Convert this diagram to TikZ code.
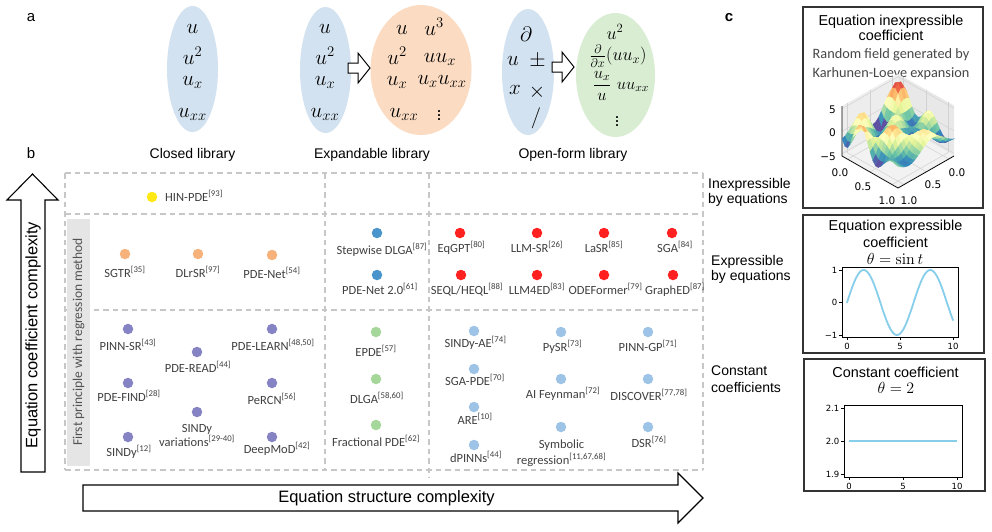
\RequirePackage{fix-cm}
\documentclass[tikz,border=0pt]{standalone}
\usepackage[no-math]{fontspec}
\setmainfont{Liberation Sans}
\newfontfamily\calfont{Carlito}
\newfontfamily\dvfont{DejaVu Sans}
\usetikzlibrary{shapes.geometric}
\definecolor{ellblue}{RGB}{211,226,240}
\definecolor{ellorange}{RGB}{251,220,194}
\definecolor{ellgreen}{RGB}{217,237,211}
\definecolor{cyellow}{RGB}{255,232,20}
\definecolor{corange}{RGB}{246,178,122}
\definecolor{csteel}{RGB}{74,148,204}
\definecolor{cred}{RGB}{255,32,32}
\definecolor{cpurple}{RGB}{134,131,196}
\definecolor{cgreen}{RGB}{165,214,154}
\definecolor{clblue}{RGB}{157,195,230}
\definecolor{methgray}{RGB}{64,64,64}
\definecolor{skyb}{RGB}{135,206,235}
\definecolor{cm0}{HTML}{5E4FA2}
\definecolor{cm1}{HTML}{3288BD}
\definecolor{cm2}{HTML}{66C2A5}
\definecolor{cm3}{HTML}{ABDDA4}
\definecolor{cm4}{HTML}{E6F598}
\definecolor{cm5}{HTML}{FFFFBF}
\definecolor{cm6}{HTML}{FEE08B}
\definecolor{cm7}{HTML}{FDAE61}
\definecolor{cm8}{HTML}{F46D43}
\definecolor{cm9}{HTML}{D53E4F}
\definecolor{cm10}{HTML}{9E0142}
\newcommand\citeR[1]{\textsuperscript{[#1]}}
\tikzset{
  ellnode/.style={ellipse, inner sep=0pt, draw=none},
  mth/.style={inner sep=0pt, font=\fontsize{21}{21}\selectfont},
  mthb/.style={mth, anchor=base},
  mths/.style={inner sep=0pt, font=\fontsize{18}{18}\selectfont},
  lbl/.style={inner sep=0pt, font=\fontsize{14}{16}\selectfont},
  rowlbl/.style={lbl, anchor=base west, yshift=-5pt},
  ttl/.style={inner sep=0pt, anchor=base, yshift=-5.2pt, font=\fontsize{14.4}{16}\selectfont},
  axlbl/.style={inner sep=0pt, font=\fontsize{16.5}{18}\selectfont},
  letter/.style={inner sep=0pt, font=\fontsize{15}{17}\selectfont},
  meth/.style={inner sep=0pt, anchor=base, yshift=-4.5pt, text=methgray, font=\calfont\fontsize{12.5}{14}\selectfont},
  mdot/.style={circle, inner sep=0pt, minimum size=10.5pt, draw=none},
  gridln/.style={draw=black!22, line width=1.1pt, dash pattern=on 5.5pt off 4pt},
  blockarrow/.style={draw=black, fill=white, line width=1.1pt, line join=miter},
  panel/.style={draw=black!80, line width=1.2pt},
  tick/.style={inner sep=0pt, font=\dvfont\fontsize{8.5}{9}\selectfont},
  tick3/.style={inner sep=0pt, font=\dvfont\fontsize{10.5}{11}\selectfont},
}
\begin{document}
\begin{tikzpicture}[x=1pt,y=-1pt,
  declare function={
    srf(\a,\b)=3.9*sin(680*\a+30)*cos(560*\b-40)*(1.2-\a)+1.5*sin(400*\b+300*\a)-0.4;
    px(\a,\b)=898+56*\a-56*\b;
    py(\a,\b,\z)=124+31.5*\a+32*\b-(\z+5.5)*4.5;
  }]
\useasboundingbox (0,0) rectangle (992,531);
\fill[white] (0,0) rectangle (992,531);

% ---------------- panel letters
\node[letter] (la) at (31,18) {a};
\node[letter] (lb) at (31,153) {b};
\node[letter, font=\bfseries\fontsize{15}{17}\selectfont] (lc) at (729,18) {c};

% ---------------- panel a: ellipses
\node[ellnode, fill=ellblue, minimum width=51pt, minimum height=126pt] (e1) at (192.5,69) {};
\node[ellnode, fill=ellblue, minimum width=51pt, minimum height=126pt] (e2) at (325.5,70) {};
\node[ellnode, fill=ellorange, minimum width=101pt, minimum height=130pt] (e3) at (421,70) {};
\node[ellnode, fill=ellblue, minimum width=52pt, minimum height=126pt] (e4) at (528,72) {};
\node[ellnode, fill=ellgreen, minimum width=79pt, minimum height=124pt] (e5) at (615.5,75) {};

% closed library
\node[mthb] (c1) at (192.5,33) {$u$};
\node[mthb] (c2) at (192.5,64) {$u^2$};
\node[mthb] (c3) at (192.5,85) {$u_x$};
\node[mthb] (c4) at (192.5,117) {$u_{xx}$};
% expandable library (base)
\node[mthb] (x1) at (325,33) {$u$};
\node[mthb] (x2) at (325,64) {$u^2$};
\node[mthb] (x3) at (325,85) {$u_x$};
\node[mthb] (x4) at (325,117) {$u_{xx}$};
% expanded
\node[mthb] (o1) at (402,34) {$u$};
\node[mthb] (o2) at (397,64) {$u^2$};
\node[mthb] (o3) at (397,85) {$u_x$};
\node[mthb] (o4) at (404,117) {$u_{xx}$};
\node[mthb] (o5) at (434,35) {$u^3$};
\node[mthb] (o6) at (440,62) {$uu_x$};
\node[mthb] (o7) at (442,84) {$u_xu_{xx}$};
\node[mth, font=\fontsize{18}{18}\selectfont] (o8) at (439,113) {$\vdots$};
% open-form library
\node[mth] (p1) at (526,34) {$\partial$};
\node[mth] (p2) at (513,61) {$u$};
\node[mth] (p3) at (537.5,61) {$\pm$};
\node[mth] (p4) at (515,90) {$x$};
\node[mth] (p5) at (537,92) {$\times$};
\node[mth] (p6) at (536,118) {$/$};
% open-form result
\node[mths] (g1) at (615,32) {$u^2$};
\node[mths] (g2) at (618,56) {$\frac{\partial}{\partial x}(uu_x)$};
\node[mths, font=\fontsize{16.5}{17}\selectfont] (g3) at (602,86) {$\displaystyle\frac{u_x}{u}$};
\node[mths, font=\fontsize{16.5}{17}\selectfont] (g4) at (633,87) {$uu_{xx}$};
\node[mths] (g5) at (617,119) {$\vdots$};

% small block arrows
\draw[blockarrow, line width=1pt] (348,63) -- (358,63) -- (358,53) -- (370,68) -- (358,83) -- (358,73) -- (348,73) -- cycle;
\draw[blockarrow, line width=1pt] (552,62) -- (562,62) -- (562,52) -- (574,67) -- (562,82) -- (562,72) -- (552,72) -- cycle;

\node[lbl] (t1) at (192.5,155) {Closed library};
\node[lbl] (t2) at (372,155) {Expandable library};
\node[lbl] (t3) at (573,155) {Open-form library};

% ---------------- panel b: grid
\draw[gridln] (65,173) -- (703,173);
\draw[gridln] (65,214) -- (703,214);
\draw[gridln] (65,310) -- (703,310);
\draw[gridln] (65,470) -- (703,470);
\draw[gridln] (65,173) -- (65,470);
\draw[gridln] (703,173) -- (703,470);
\draw[gridln] (325,173) -- (325,470);
\draw[gridln] (429,173) -- (429,478);

\fill[black!10] (67,219) rectangle (90,466);
\node[inner sep=0pt, rotate=90, text=black!68, font=\calfont\fontsize{13.5}{15}\selectfont] (fp) at (78.5,342) {First principle with regression method};

% axes arrows
\draw[blockarrow] (21,472) -- (21,200) -- (7,200) -- (32.5,174) -- (58,200) -- (45,200) -- (45,472) -- cycle;
\node[axlbl, rotate=90] (ay) at (33,335) {Equation coefficient complexity};
\draw[blockarrow] (83,485) -- (678,485) -- (678,473) -- (703,498) -- (678,523) -- (678,511) -- (83,511) -- cycle;
\node[axlbl] (ax) at (386.5,498) {Equation structure complexity};

% row labels
\node[rowlbl] (r1a) at (708,183) {Inexpressible};
\node[rowlbl] (r1b) at (708,198) {by equations};
\node[rowlbl] (r2a) at (711,260) {Expressible};
\node[rowlbl] (r2b) at (711,275) {by equations};
\node[rowlbl] (r3a) at (711,370) {Constant};
\node[rowlbl] (r3b) at (711,387) {coefficients};

% row 1
\node[mdot, fill=cyellow] (hin) at (152,197) {};
\node[meth, anchor=base west] (hinL) at (165,197) {HIN-PDE\citeR{93}};

% row 2, col 1
\node[mdot, fill=corange] (sgtr) at (125,254) {};
\node[meth] (sgtrL) at (125,273) {SGTR\citeR{35}};
\node[mdot, fill=corange] (dlrsr) at (198,254) {};
\node[meth] (dlrsrL) at (198,273) {DLrSR\citeR{97}};
\node[mdot, fill=corange] (pdenet) at (272,255) {};
\node[meth] (pdenetL) at (272,274) {PDE-Net\citeR{54}};

% row 2, col 2
\node[mdot, fill=csteel] (sdlga) at (377,233) {};
\node[meth] (sdlgaL) at (382,250) {Stepwise DLGA\citeR{87}};
\node[mdot, fill=csteel] (pdenet2) at (377,275) {};
\node[meth] (pdenet2L) at (380,290) {PDE-Net 2.0\citeR{61}};

% row 2, col 3
\node[mdot, fill=cred] (eqgpt) at (460,233) {};
\node[meth] (eqgptL) at (461.5,248) {EqGPT\citeR{80}};
\node[mdot, fill=cred] (llmsr) at (537,233) {};
\node[meth] (llmsrL) at (537,248) {LLM-SR\citeR{26}};
\node[mdot, fill=cred] (lasr) at (604,233) {};
\node[meth] (lasrL) at (604,248) {LaSR\citeR{85}};
\node[mdot, fill=cred] (sga) at (672,233) {};
\node[meth] (sgaL) at (675,248) {SGA\citeR{84}};
\node[mdot, fill=cred] (seql) at (461,275) {};
\node[meth] (seqlL) at (467,290) {SEQL/HEQL\citeR{88}};
\node[mdot, fill=cred] (llm4ed) at (537,275) {};
\node[meth] (llm4edL) at (537,290) {LLM4ED\citeR{83}};
\node[mdot, fill=cred] (odef) at (604,275) {};
\node[meth] (odefL) at (605.5,290) {ODEFormer\citeR{79}};
\node[mdot, fill=cred] (graphed) at (673,275) {};
\node[meth] (graphedL) at (675,290) {GraphED\citeR{87}};

% row 3, col 1
\node[mdot, fill=cpurple] (pinnsr) at (128,329) {};
\node[meth] (pinnsrL) at (128,346) {PINN-SR\citeR{43}};
\node[mdot, fill=cpurple] (pderead) at (197,352) {};
\node[meth] (pdereadL) at (198,368) {PDE-READ\citeR{44}};
\node[mdot, fill=cpurple] (pdelearn) at (272,329) {};
\node[meth] (pdelearnL) at (273,346) {PDE-LEARN\citeR{48,50}};
\node[mdot, fill=cpurple] (pdefind) at (128,383) {};
\node[meth] (pdefindL) at (129,397) {PDE-FIND\citeR{28}};
\node[mdot, fill=cpurple] (percn) at (272,383) {};
\node[meth] (percnL) at (272,400) {PeRCN\citeR{56}};
\node[mdot, fill=cpurple] (sindyv) at (197,412) {};
\node[meth] (sindyvL1) at (197,428) {SINDy};
\node[meth] (sindyvL2) at (197,442) {variations\citeR{29-40}};
\node[mdot, fill=cpurple] (sindy) at (128,437) {};
\node[meth] (sindyL) at (129,452) {SINDy\citeR{12}};
\node[mdot, fill=cpurple] (deepmod) at (272,437) {};
\node[meth] (deepmodL) at (277,449) {DeepMoD\citeR{42}};

% row 3, col 2
\node[mdot, fill=cgreen] (epde) at (376,332) {};
\node[meth] (epdeL) at (376,352) {EPDE\citeR{57}};
\node[mdot, fill=cgreen] (dlga) at (376,379) {};
\node[meth] (dlgaL) at (377,399) {DLGA\citeR{58,60}};
\node[mdot, fill=cgreen] (fpde) at (376,425) {};
\node[meth] (fpdeL) at (376,442) {Fractional PDE\citeR{62}};

% row 3, col 3
\node[mdot, fill=clblue] (sindyae) at (474,331) {};
\node[meth] (sindyaeL) at (475.5,343) {SINDy-AE\citeR{74}};
\node[mdot, fill=clblue] (sgapde) at (474,369) {};
\node[meth] (sgapdeL) at (475,381) {SGA-PDE\citeR{70}};
\node[mdot, fill=clblue] (are) at (474,407) {};
\node[meth] (areL) at (475,420) {ARE\citeR{10}};
\node[mdot, fill=clblue] (dpinn) at (474,445) {};
\node[meth] (dpinnL) at (476,458) {dPINNs\citeR{44}};
\node[mdot, fill=clblue] (pysr) at (561,332) {};
\node[meth] (pysrL) at (562.5,347) {PySR\citeR{73}};
\node[mdot, fill=clblue] (aif) at (561,379) {};
\node[meth] (aifL) at (563,394) {AI Feynman\citeR{72}};
\node[mdot, fill=clblue] (symreg) at (561,427) {};
\node[meth] (symregL1) at (561.5,444) {Symbolic};
\node[meth] (symregL2) at (561.5,460) {regression\citeR{11,67,68}};
\node[mdot, fill=clblue] (pinngp) at (648,332) {};
\node[meth] (pinngpL) at (648,347) {PINN-GP\citeR{71}};
\node[mdot, fill=clblue] (discover) at (648,379) {};
\node[meth] (discoverL) at (649,396) {DISCOVER\citeR{77,78}};
\node[mdot, fill=clblue] (dsr) at (648,427) {};
\node[meth] (dsrL) at (649,443) {DSR\citeR{76}};

% ---------------- panel c
\draw[panel] (803,7) rectangle (983,208);
\node[ttl] (c1t1) at (891,20) {Equation inexpressible};
\node[ttl] (c1t2) at (891,35) {coefficient};
\node[meth, text=black!72, yshift=-0.5pt, font=\calfont\fontsize{14.3}{15}\selectfont] (c1t3) at (891,53) {Random field generated by};
\node[meth, text=black!72, yshift=-0.5pt, font=\calfont\fontsize{14.3}{15}\selectfont] (c1t4) at (891,72) {Karhunen-Loeve expansion};

% 3D panes
\fill[black!7] (898,124) -- (842,156) -- (842,106) -- (898,74) -- cycle;
\fill[black!9] (898,124) -- (954,155.5) -- (954,105.5) -- (898,74) -- cycle;
\fill[black!5] (898,124) -- (954,155.5) -- (898,187.5) -- (842,156) -- cycle;
\begin{scope}[draw=black!18, line width=0.5pt]
  \foreach \zz in {-5,0,5}{
    \draw ({px(0,1)},{py(0,1,\zz)}) -- ({px(0,0)},{py(0,0,\zz)}) -- ({px(1,0)},{py(1,0,\zz)});
  }
  \foreach \ss in {0.1,0.5,0.9}{
    \draw ({px(0,\ss)},{py(0,\ss,-5.5)}) -- ({px(0,\ss)},{py(0,\ss,5.6)});
    \draw ({px(\ss,0)},{py(\ss,0,-5.5)}) -- ({px(\ss,0)},{py(\ss,0,5.6)});
    \draw ({px(\ss,0)},{py(\ss,0,-5.5)}) -- ({px(\ss,1)},{py(\ss,1,-5.5)});
    \draw ({px(0,\ss)},{py(0,\ss,-5.5)}) -- ({px(1,\ss)},{py(1,\ss,-5.5)});
  }
\end{scope}
\draw[black, line width=0.8pt] (842,106) -- (842,156) -- (898,188) -- (954,156);

% surface
\foreach \i in {0,...,19}{
  \foreach \j in {0,...,19}{
    \pgfmathsetmacro\aA{\i/20}
    \pgfmathsetmacro\aB{(\i+1)/20}
    \pgfmathsetmacro\bA{\j/20}
    \pgfmathsetmacro\bB{(\j+1)/20}
    \pgfmathsetmacro\zAA{srf(\aA,\bA)}
    \pgfmathsetmacro\zAB{srf(\aA,\bB)}
    \pgfmathsetmacro\zBA{srf(\aB,\bA)}
    \pgfmathsetmacro\zBB{srf(\aB,\bB)}
    \pgfmathsetmacro\tval{10*max(0,min(0.999,((\zAA+\zAB+\zBA+\zBB)/4+2.9)/8.6))}
    \pgfmathtruncatemacro\kA{\tval}
    \pgfmathtruncatemacro\kB{\kA+1}
    \pgfmathtruncatemacro\pcv{100*(\tval-\kA)}
    \colorlet{patchc}{cm\kB!\pcv!cm\kA}
    \filldraw[fill=patchc, draw=patchc, line width=0.3pt]
      ({px(\aA,\bA)},{py(\aA,\bA,\zAA)}) -- ({px(\aB,\bA)},{py(\aB,\bA,\zBA)}) --
      ({px(\aB,\bB)},{py(\aB,\bB,\zBB)}) -- ({px(\aA,\bB)},{py(\aA,\bB,\zAB)}) -- cycle;
  }
}
\node[tick3, anchor=east] (z5) at (836,110) {5};
\node[tick3, anchor=east] (z0) at (836,133) {0};
\node[tick3, anchor=east] (zm5) at (836,157) {−5};
\node[tick3] (xa0) at (840,173) {0.0};
\node[tick3] (xa5) at (863,187) {0.5};
\node[tick3] (xa1) at (887,201) {1.0};
\node[tick3] (ya0) at (957,173) {0.0};
\node[tick3] (ya5) at (933,185) {0.5};
\node[tick3] (ya1) at (909,201) {1.0};

% box 2
\draw[panel] (803,215) rectangle (984,353);
\node[ttl] (c2t1) at (895.5,225) {Equation expressible};
\node[ttl] (c2t2) at (895.5,242) {coefficient};
\node[inner sep=0pt, font=\fontsize{16}{17}\selectfont] (c2t3) at (895,259) {$\theta=\sin t$};
\draw[line width=0.8pt] (842,267) rectangle (958,337);
\draw[skyb, line width=1.8pt, line cap=round] plot[domain=0:10, samples=100, smooth] ({847+10.6*\x},{302.5-32.5*sin(\x r)});
\foreach \yy/\tl in {270/1, 302.5/0, 335/−1}{
  \draw[line width=0.6pt] (842,\yy) -- (839,\yy);
  \node[tick, anchor=east] at (837.5,\yy) {\tl};
}
\foreach \xx/\tl in {847/0, 900/5, 953/10}{
  \draw[line width=0.6pt] (\xx,337) -- (\xx,340);
  \node[tick] at (\xx,346.5) {\tl};
}

% box 3
\draw[panel] (804,359) rectangle (985,491);
\node[ttl] (c3t1) at (895.5,372) {Constant coefficient};
\node[inner sep=0pt, font=\fontsize{16}{17}\selectfont] (c3t2) at (896,388) {$\theta=2$};
\draw[line width=0.8pt] (844,405) rectangle (962,477);
\draw[skyb, line width=1.8pt] (849,441) -- (957,441);
\foreach \yy/\tl in {408/2.1, 441/2.0, 474/1.9}{
  \draw[line width=0.6pt] (844,\yy) -- (841,\yy);
  \node[tick, anchor=east] at (839.5,\yy) {\tl};
}
\foreach \xx/\tl in {849/0, 903/5, 957/10}{
  \draw[line width=0.6pt] (\xx,477) -- (\xx,480);
  \node[tick] at (\xx,486) {\tl};
}
\end{tikzpicture}
\end{document}
